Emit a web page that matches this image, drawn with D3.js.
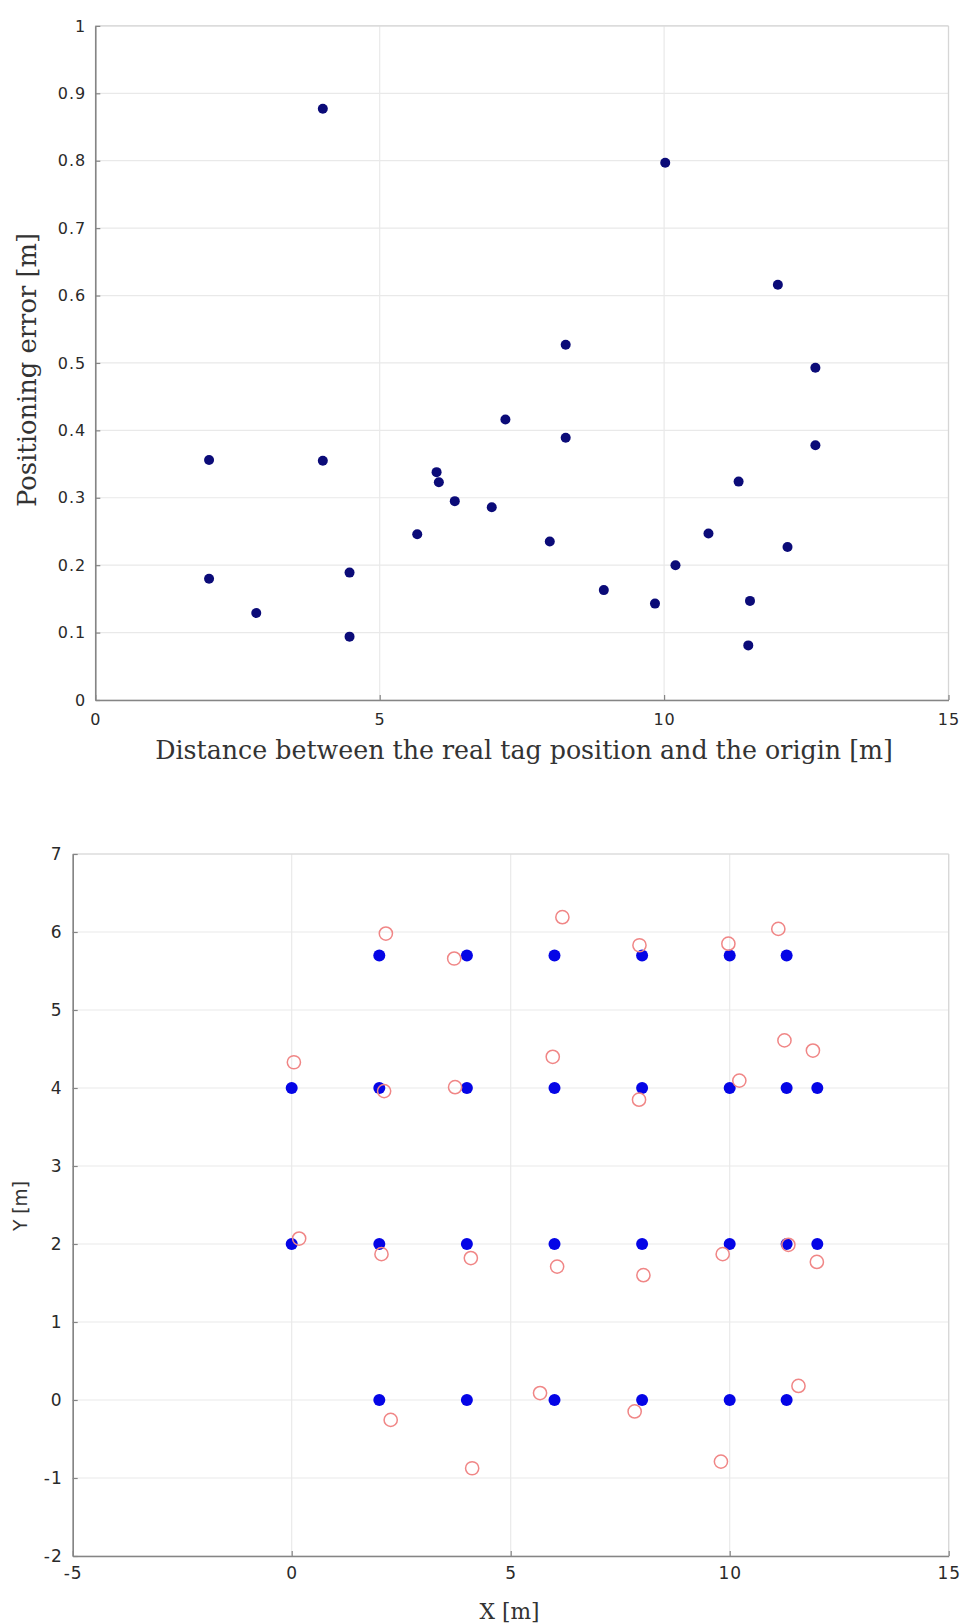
<!DOCTYPE html>
<html>
<head>
<meta charset="utf-8">
<script src="https://cdn.jsdelivr.net/npm/d3@7"></script>
<style>
  html, body { margin: 0; padding: 0; background: #ffffff; }
  svg { display: block; }
  .tick text { font-family: "DejaVu Sans", "Liberation Sans", sans-serif; fill: #2a2a2a; letter-spacing: 1px; }
</style>
</head>
<body>
<svg id="fig" width="963" height="1624"></svg>
<script>
// Positioning error versus distance of each tag from the origin
const distance = [4.0, 10.02, 12.0, 8.27, 12.66, 7.21, 8.27, 12.66, 2.0, 4.0,
                  6.0, 6.04, 11.31, 6.32, 6.97, 5.66, 10.78, 7.99, 12.17, 10.2,
                  4.47, 2.0, 8.94, 11.51, 9.84, 2.83, 4.47, 11.48];
const posError = [0.877, 0.797, 0.616, 0.527, 0.493, 0.416, 0.389, 0.378, 0.356, 0.355,
                  0.338, 0.323, 0.324, 0.295, 0.286, 0.246, 0.247, 0.235, 0.227, 0.200,
                  0.189, 0.180, 0.163, 0.147, 0.143, 0.129, 0.094, 0.081];

// Real tag positions
const realX = [2, 4, 6, 8, 10, 11.3,
               0, 2, 4, 6, 8, 10, 11.3, 12,
               0, 2, 4, 6, 8, 10, 11.3, 12,
               2, 4, 6, 8, 10, 11.3];
const realY = [5.7, 5.7, 5.7, 5.7, 5.7, 5.7,
               4, 4, 4, 4, 4, 4, 4, 4,
               2, 2, 2, 2, 2, 2, 2, 2,
               0, 0, 0, 0, 0, 0];

// Estimated tag positions
const estX = [2.15, 3.71, 6.18, 7.94, 9.97, 11.11,
              0.05, 2.11, 3.73, 5.96, 7.93, 10.22, 11.25, 11.9,
              0.17, 2.05, 4.09, 6.06, 8.03, 9.84, 11.34, 11.99,
              2.26, 4.12, 5.67, 7.83, 9.80, 11.57];
const estY = [5.98, 5.66, 6.19, 5.83, 5.85, 6.04,
              4.33, 3.96, 4.01, 4.40, 3.85, 4.095, 4.61, 4.48,
              2.07, 1.87, 1.82, 1.71, 1.60, 1.87, 1.99, 1.77,
              -0.255, -0.875, 0.089, -0.147, -0.79, 0.18];

// Tick values
const topXTicks = [0, 5, 10, 15];
const topYTicks = [0, 0.1, 0.2, 0.3, 0.4, 0.5, 0.6, 0.7, 0.8, 0.9, 1];
const botXTicks = [-5, 0, 5, 10, 15];
const botYTicks = [-2, -1, 0, 1, 2, 3, 4, 5, 6, 7];

const svg = d3.select("#fig");
const fmt = d => String(d);

const GRID = "#e9e9e9";
const BOX = "#d6d6d6";
const AXIS = "#858585";

function fitText(sel, target, base) {
  sel.attr("font-size", base);
  const len = sel.node().getComputedTextLength();
  sel.attr("font-size", base * target / len);
}

function panel(opts) {
  const { x, y, xTicks, yTicks, fontSize } = opts;
  const [L, R] = x.range();
  const [B, T] = y.range();
  const g = svg.append("g");

  // grid
  g.append("g").selectAll("line").data(xTicks).join("line")
    .attr("x1", d => x(d)).attr("x2", d => x(d))
    .attr("y1", T).attr("y2", B)
    .attr("stroke", GRID).attr("stroke-width", 1.2);
  g.append("g").selectAll("line").data(yTicks).join("line")
    .attr("x1", L).attr("x2", R)
    .attr("y1", d => y(d)).attr("y2", d => y(d))
    .attr("stroke", GRID).attr("stroke-width", 1.2);

  // light box on top and right
  g.append("line").attr("x1", L).attr("x2", R).attr("y1", T).attr("y2", T)
    .attr("stroke", BOX).attr("stroke-width", 1.2);
  g.append("line").attr("x1", R).attr("x2", R).attr("y1", T).attr("y2", B)
    .attr("stroke", BOX).attr("stroke-width", 1.2);

  // axes with inward ticks
  const ax = g.append("g").attr("transform", `translate(0,${B})`)
    .call(d3.axisBottom(x).tickValues(xTicks).tickFormat(fmt)
      .tickSizeInner(-5).tickSizeOuter(0).tickPadding(opts.xPad));
  const ay = g.append("g").attr("transform", `translate(${L},0)`)
    .call(d3.axisLeft(y).tickValues(yTicks).tickFormat(fmt)
      .tickSizeInner(-5).tickSizeOuter(0).tickPadding(opts.yPad));
  [ax, ay].forEach(a => {
    a.select(".domain").attr("stroke", AXIS).attr("stroke-width", 1.6);
    a.selectAll(".tick line").attr("stroke", AXIS).attr("stroke-width", 1.2);
    a.selectAll(".tick text").attr("font-size", fontSize);
  });
  return g;
}

// ---- Top panel: error vs. distance ----
const xTop = d3.scaleLinear().domain([0, 15]).range([95.3, 948.5]);
const yTop = d3.scaleLinear().domain([0, 1]).range([700, 25.9]);
const gTop = panel({ x: xTop, y: yTop, xTicks: topXTicks, yTicks: topYTicks,
                     fontSize: 16, xPad: 14, yPad: 9 });

gTop.append("g").selectAll("circle").data(distance).join("circle")
  .attr("cx", (d) => xTop(d))
  .attr("cy", (d, i) => yTop(posError[i]))
  .attr("r", 5)
  .attr("fill", "#0b0b78");

const tTopX = svg.append("text")
  .attr("x", 524).attr("y", 759)
  .attr("text-anchor", "middle")
  .attr("font-family", "'DejaVu Serif', 'Liberation Serif', serif")
  .attr("fill", "#333")
  .text("Distance between the real tag position and the origin [m]");
fitText(tTopX, 738, 20);

const tTopY = svg.append("text")
  .attr("transform", "translate(36,370) rotate(-90)")
  .attr("text-anchor", "middle")
  .attr("font-family", "'DejaVu Serif', 'Liberation Serif', serif")
  .attr("fill", "#333")
  .text("Positioning error [m]");
fitText(tTopY, 274, 20);

// ---- Bottom panel: real vs. estimated positions ----
const xBot = d3.scaleLinear().domain([-5, 15]).range([72.7, 948.7]);
const yBot = d3.scaleLinear().domain([-2, 7]).range([1556, 854]);
const gBot = panel({ x: xBot, y: yBot, xTicks: botXTicks, yTicks: botYTicks,
                     fontSize: 17, xPad: 11, yPad: 10 });

gBot.append("g").selectAll("circle").data(realX).join("circle")
  .attr("cx", d => xBot(d))
  .attr("cy", (d, i) => yBot(realY[i]))
  .attr("r", 6)
  .attr("fill", "#0505e6");

gBot.append("g").selectAll("circle").data(estX).join("circle")
  .attr("cx", d => xBot(d))
  .attr("cy", (d, i) => yBot(estY[i]))
  .attr("r", 6.6)
  .attr("fill", "none")
  .attr("stroke", "#f08686")
  .attr("stroke-width", 1.5);

const tBotX = svg.append("text")
  .attr("x", 509.5).attr("y", 1619)
  .attr("text-anchor", "middle")
  .attr("font-family", "'DejaVu Serif', 'Liberation Serif', serif")
  .attr("fill", "#333")
  .text("X [m]");
fitText(tBotX, 60, 18);

const tBotY = svg.append("text")
  .attr("transform", "translate(27,1206) rotate(-90)")
  .attr("text-anchor", "middle")
  .attr("font-family", "'DejaVu Sans', 'Liberation Sans', sans-serif")
  .attr("fill", "#333")
  .text("Y [m]");
fitText(tBotY, 50, 17);
</script>
</body>
</html>
